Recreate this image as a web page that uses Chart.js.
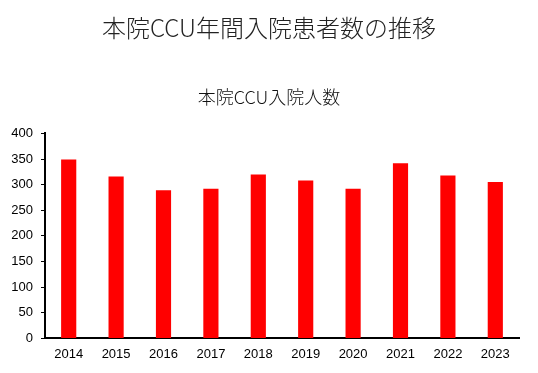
<!DOCTYPE html>
<html>
<head>
<meta charset="utf-8">
<script src="https://cdn.jsdelivr.net/npm/chart.js@4"></script>
<style>
  html, body { margin: 0; padding: 0; background: #fff; }
  #wrap { width: 538px; height: 373px; }
</style>
</head>
<body>
<div id="wrap"><canvas id="chart" width="538" height="373"></canvas></div>
<script>
// Chart data
const years = ['2014', '2015', '2016', '2017', '2018', '2019', '2020', '2021', '2022', '2023'];
const admissions = [349, 316, 289, 292, 320, 308, 292, 342, 318, 305];
const yTicks = [0, 50, 100, 150, 200, 250, 300, 350, 400];

const mainTitle = '本院CCU年間入院患者数の推移';
const subTitle = '本院CCU入院人数';

const ctx = document.getElementById('chart').getContext('2d');

const myChart = new Chart(ctx, {
    type: 'bar',
    data: {
        labels: years,
        datasets: [{
            label: subTitle,
            data: admissions,
            backgroundColor: '#ff0000',
            borderWidth: 0,
            barPercentage: 0.64,
            categoryPercentage: 0.5
        }]
    },
    options: {
        responsive: false,
        animation: false,
        layout: {
            padding: { left: 0, right: 0, top: 0, bottom: 3 }
        },
        plugins: {
            legend: { display: false },
            tooltip: { enabled: false },
            title: {
                display: true,
                text: mainTitle,
                color: '#222',
                font: { family: '"Noto Sans CJK JP", sans-serif', size: 24, weight: 300 },
                padding: { top: 13, bottom: 0 }
            },
            subtitle: {
                display: true,
                text: subTitle,
                color: '#111',
                font: { family: '"Noto Sans CJK JP", sans-serif', size: 18, weight: 300 },
                padding: { top: 45, bottom: 25 }
            }
        },
        scales: {
            x: {
                grid: { display: false, drawTicks: false },
                border: { display: true, color: '#000', width: 2 },
                ticks: {
                    color: '#000',
                    padding: 8,
                    font: { family: '"Liberation Sans", Arial, sans-serif', size: 13 }
                },
                afterFit: (axis) => {
                    // leave room on the right like the original
                    axis.paddingRight = 19;
                }
            },
            y: {
                min: 0,
                max: 400,
                afterBuildTicks: (axis) => {
                    axis.ticks = yTicks.map(v => ({ value: v }));
                },
                afterFit: (axis) => {
                    axis.width = 45;
                },
                grid: {
                    display: true,
                    drawOnChartArea: false,
                    drawTicks: true,
                    tickLength: 4,
                    color: '#000',
                    lineWidth: 1
                },
                border: { display: true, color: '#000', width: 2 },
                ticks: {
                    color: '#000',
                    padding: 8,
                    font: { family: '"Liberation Sans", Arial, sans-serif', size: 13 }
                }
            }
        }
    }
});
</script>
</body>
</html>
